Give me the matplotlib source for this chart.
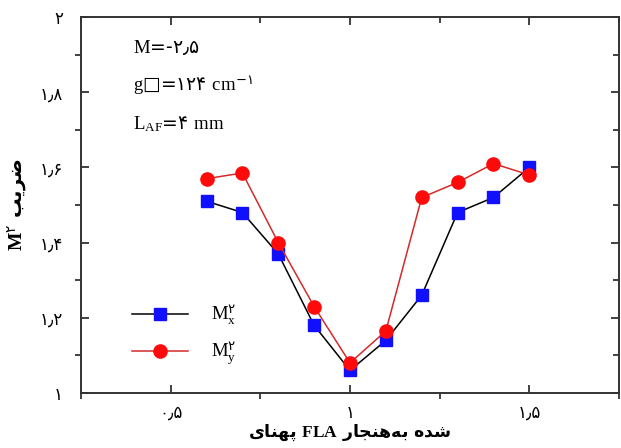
import matplotlib
matplotlib.use('Agg')
import matplotlib.pyplot as plt
from matplotlib.ticker import FixedLocator, MultipleLocator

# ── data ─────────────────────────────────────────────────────────────────────
fla_width = [0.6, 0.7, 0.8, 0.9, 1.0, 1.1, 1.2, 1.3, 1.4, 1.5]
m2_x = [1.51, 1.48, 1.37, 1.18, 1.06, 1.14, 1.26, 1.48, 1.52, 1.60]
m2_y = [1.57, 1.585, 1.40, 1.23, 1.08, 1.165, 1.52, 1.56, 1.61, 1.58]

x_ticks = [0.5, 1.0, 1.5]
x_tick_labels = ['۰٫۵', '۱', '۱٫۵']
y_ticks = [1.0, 1.2, 1.4, 1.6, 1.8, 2.0]
y_tick_labels = ['۱', '۱٫۲', '۱٫۴', '۱٫۶', '۱٫۸', '۲']

# Persian words, already shaped (presentation forms, visual order)
PEHNAY = '\uFBFC\uFE8E\uFEE8\uFEEC\uFB58'         # پهنای
BEHANJAR = '\uFEAD\uFE8E\uFEA0\uFEE8\uFEEB\uFEEA\uFE91'  # به‌هنجار
SHODEH = '\uFEE9\uFEAA\uFEB7'                     # شده
ZARIB = '\uFE90\uFBFE\uFEAE\uFEBF'                # ضریب

label_x = r'$\mathrm{M}^{\mathsf{۲}}_{\mathrm{x}}$'
label_y = r'$\mathrm{M}^{\mathsf{۲}}_{\mathrm{y}}$'
notes = [r'$\mathrm{M}$=-۲٫۵',
         r'$\mathrm{g}$□=۱۲۴ $\mathrm{cm}^{\mathsf{-۱}}$',
         r'$\mathrm{L}_{\mathrm{AF}}$=۴ $\mathrm{mm}$']

plt.rcParams['mathtext.fontset'] = 'custom'
plt.rcParams['mathtext.rm'] = 'Liberation Serif'
plt.rcParams['mathtext.it'] = 'Liberation Serif:italic'
plt.rcParams['mathtext.bf'] = 'Liberation Serif:bold'
plt.rcParams['mathtext.sf'] = 'DejaVu Sans'
plt.rcParams['font.family'] = ['DejaVu Sans']

fig = plt.figure(figsize=(6.21, 4.48), dpi=100)
ax = fig.add_axes([0.1304, 0.1228, 0.8664, 0.8393])

ax.plot(fla_width, m2_x, color='black', lw=1.1, marker='s', ms=8,
        mfc='#1010ff', mec='#1010ff', label=label_x, zorder=3)
ax.plot(fla_width, m2_y, color='#d42a2a', lw=1.1, marker='o', ms=9.5,
        mfc='#ff0a0a', mec='#ff0a0a', label=label_y, zorder=4)

ax.set_xlim(0.25, 1.75)
ax.set_ylim(1.0, 2.0)
ax.xaxis.set_major_locator(FixedLocator(x_ticks))
ax.set_xticklabels(x_tick_labels)
ax.yaxis.set_major_locator(FixedLocator(y_ticks))
ax.set_yticklabels(y_tick_labels)
ax.xaxis.set_minor_locator(MultipleLocator(0.25))
ax.yaxis.set_minor_locator(MultipleLocator(0.1))

for side in ax.spines.values():
    side.set_linewidth(1.4)
    side.set_color('#333333')

ax.tick_params(which='major', direction='in', length=6, width=1.3,
               top=True, right=True, labelsize=12, color='#333333')
ax.tick_params(which='minor', direction='out', length=4, width=1.3,
               color='#333333')
ax.tick_params(axis='x', which='major', pad=8)
ax.tick_params(axis='y', which='major', pad=13)
# minor ticks on top / right point inward
ax.tick_params(which='minor', top=True, right=True)
for t in ax.xaxis.get_minor_ticks():
    t.tick2line.set_marker(3)
for t in ax.yaxis.get_minor_ticks():
    t.tick2line.set_marker(0)

ax.set_xlabel(PEHNAY + r' $\mathbf{FLA}$ ' + BEHANJAR + ' ' + SHODEH,
              fontsize=12.5, fontweight='bold', labelpad=0)
ax.set_ylabel(r'$\mathbf{M}^{\mathsf{۲}}$ ' + ZARIB,
              fontsize=14, fontweight='bold', labelpad=8)

for i, note in enumerate(notes):
    ax.text(0.097, 0.92 - i * 0.103, note, transform=ax.transAxes,
            fontsize=13.5, va='center', ha='left')

ax.legend(loc='lower left', bbox_to_anchor=(0.095, 0.07), frameon=False,
          fontsize=13.5, handlelength=3.0, handletextpad=1.2,
          labelspacing=0.7, borderpad=0, borderaxespad=0)

fig.savefig('out.png', dpi=100)
